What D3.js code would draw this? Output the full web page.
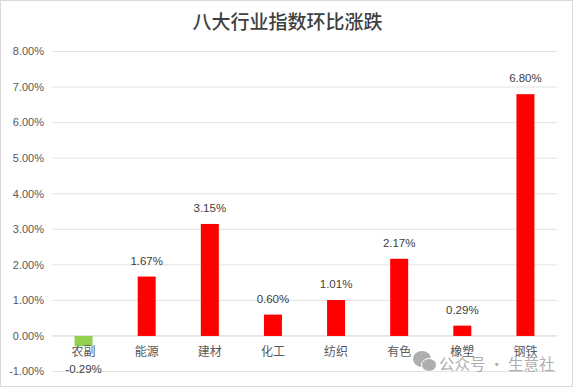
<!DOCTYPE html>
<html>
<head>
<meta charset="utf-8">
<script src="https://cdn.jsdelivr.net/npm/d3@7"></script>
<style>
html, body { margin: 0; padding: 0; background: #fff; }
svg { display: block; }
text { font-family: "Noto Sans CJK SC", "Liberation Sans", sans-serif; }
</style>
</head>
<body>
<div id="chart"></div>
<script>
// Chart data
const categories = ['农副', '能源', '建材', '化工', '纺织', '有色', '橡塑', '钢铁'];
const values = [-0.29, 1.67, 3.15, 0.60, 1.01, 2.17, 0.29, 6.80];
const yTicks = [-1, 0, 1, 2, 3, 4, 5, 6, 7, 8];

const width = 573;
const height = 387;
const margin = { top: 51.5, right: 16, bottom: 15.5, left: 52 };

// Excel style percent, plain hyphen for negatives
const pct = d => d.toFixed(2) + '%';

const svg = d3.select('#chart')
    .append('svg')
    .attr('width', width)
    .attr('height', height);

svg.append('rect')
    .attr('x', 0.5)
    .attr('y', 0.5)
    .attr('width', width - 1)
    .attr('height', height - 1)
    .attr('fill', '#fff')
    .attr('stroke', '#d9d9d9');

// Scales
const x = d3.scaleBand()
    .domain(categories)
    .range([margin.left, width - margin.right]);

const y = d3.scaleLinear()
    .domain([-1, 8])
    .range([height - margin.bottom, margin.top]);

// Grid lines
svg.append('g')
    .selectAll('line')
    .data(yTicks)
    .enter()
    .append('line')
    .attr('x1', margin.left)
    .attr('x2', width - margin.right)
    .attr('y1', d => y(d))
    .attr('y2', d => y(d))
    .attr('stroke', d => d === 0 ? '#d0d0d0' : '#e3e3e3')
    .attr('stroke-width', 1);

// Y-axis labels
svg.append('g')
    .selectAll('text')
    .data(yTicks)
    .enter()
    .append('text')
    .attr('x', 44)
    .attr('y', d => y(d))
    .attr('dy', '0.35em')
    .attr('text-anchor', 'end')
    .attr('font-size', 11)
    .style('font-family', '"Liberation Sans", sans-serif')
    .attr('fill', '#595959')
    .text(pct);

// Bars
const barWidth = 18;
svg.append('g')
    .selectAll('rect')
    .data(values)
    .enter()
    .append('rect')
    .attr('x', (d, i) => x(categories[i]) + x.bandwidth() / 2 - barWidth / 2)
    .attr('y', d => y(Math.max(d, 0)))
    .attr('width', barWidth)
    .attr('height', d => Math.abs(y(d) - y(0)))
    .attr('fill', d => d < 0 ? '#92d050' : '#ff0000');

// Value labels
svg.append('g')
    .selectAll('text')
    .data(values)
    .enter()
    .append('text')
    .attr('x', (d, i) => x(categories[i]) + x.bandwidth() / 2)
    .attr('y', d => d < 0 ? y(d) + 26.5 : y(d) - 12)
    .attr('text-anchor', 'middle')
    .attr('font-size', 11.5)
    .style('font-family', '"Liberation Sans", sans-serif')
    .attr('fill', '#404040')
    .text(pct);

// Category labels
svg.append('g')
    .selectAll('text')
    .data(categories)
    .enter()
    .append('text')
    .attr('x', d => x(d) + x.bandwidth() / 2)
    .attr('y', 355.5)
    .attr('text-anchor', 'middle')
    .attr('font-size', 12)
    .attr('fill', '#595959')
    .text(d => d);

// Title
svg.append('text')
    .attr('x', 287.5)
    .attr('y', 28.5)
    .attr('text-anchor', 'middle')
    .attr('font-size', 19)
    .attr('font-weight', 500)
    .style('font-family', '"Noto Sans CJK SC", sans-serif')
    .attr('fill', '#404040')
    .text('八大行业指数环比涨跌');

// Watermark
const mark = svg.append('g').attr('fill', '#9a9a9a').attr('opacity', 0.8);
mark.append('ellipse').attr('cx', 422).attr('cy', 359).attr('rx', 9).attr('ry', 8);
mark.append('ellipse').attr('cx', 429).attr('cy', 365).attr('rx', 7.5).attr('ry', 6.5)
    .attr('stroke', '#fff').attr('stroke-width', 1);
mark.append('text')
    .attr('x', 439)
    .attr('y', 369.5)
    .attr('font-size', 15.5)
    .text('公众号 · 生意社');
</script>
</body>
</html>
